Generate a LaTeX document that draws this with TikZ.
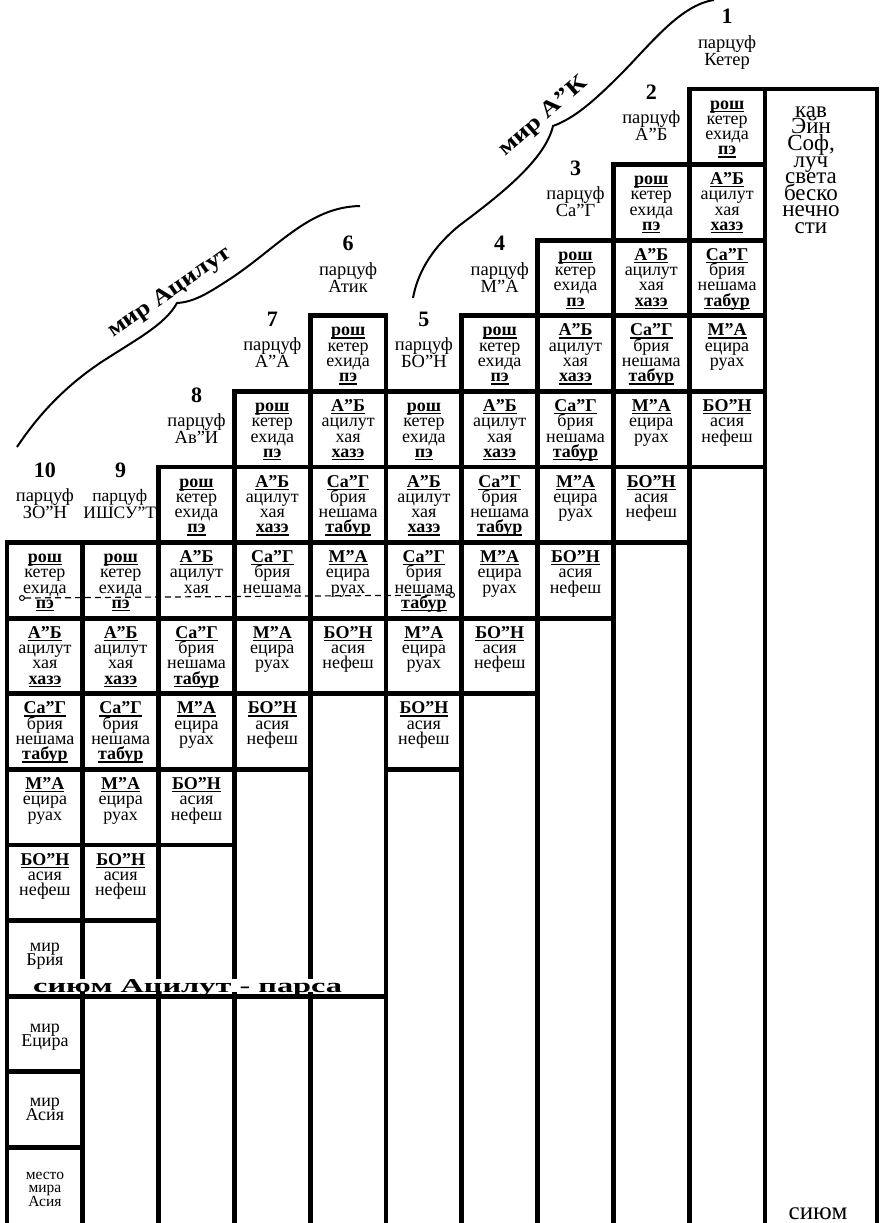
\documentclass[tikz,border=0pt]{standalone}
\usepackage{fontspec}
\setmainfont{Liberation Serif}
\usepackage{graphicx}
\usepackage{tikz}
\usetikzlibrary{positioning}
\setlength\lineskiplimit{-50pt}

\newcommand\ulb[1]{\leavevmode\setbox0\hbox{\bfseries#1}\rlap{\copy0}\rule[-2.8pt]{\wd0}{1.3pt}}
\newcommand\ctext[2][17.2pt]{\vbox to 70pt{\hsize=74pt\parindent=0pt\parskip=0pt\centering\rule{0pt}{#1}#2\par\vss}}
\newcommand\rosh{\ulb{рош}\\кетер\\ехида\\\ulb{пэ}}
\newcommand\ab{\ulb{А”Б}\\ацилут\\хая\\\ulb{хазэ}}
\newcommand\sag{\ulb{Са”Г}\\брия\\нешама\\\ulb{табур}}
\newcommand\ma{\ulb{М”А}\\ецира\\руах}
\newcommand\bon{\ulb{БО”Н}\\асия\\нефеш}

\begin{document}
\begin{tikzpicture}[x=1pt, y=-1pt, node distance=0pt,
    cellbox/.style={draw, line width=4.8pt, minimum width=75.8pt, minimum height=75.6pt, inner sep=0pt, outer sep=0pt, anchor=north west, font=\fontsize{18}{15.3}\selectfont},
    grid/.style={line width=4.8pt},
    num/.style={anchor=base, inner sep=0pt, font=\fontsize{22}{22}\selectfont\bfseries},
    plbl/.style={anchor=north, align=center, inner sep=0pt, font=\fontsize{18.5}{17}\selectfont},
    kavtxt/.style={anchor=north, align=center, inner sep=0pt, font=\fontsize{23}{16.6}\selectfont},
    world/.style={line width=2pt},
    wtext/.style={anchor=base west, inner sep=0pt, font=\bfseries},
    ring/.style={circle, draw, line width=1pt, fill=white, minimum size=5pt, inner sep=0pt},
    dashln/.style={dash pattern=on 6pt off 4pt, line width=1.2pt},
]
\useasboundingbox (0,0) rectangle (886,1223);
\coordinate (bot) at (0,1223);
\coordinate (kavtr) at (877,89);

\node[cellbox] (k1a) at (689.2,89) {\ctext{\rosh}};
\node[cellbox, below=of k1a] (k1b) {\ctext{\ab}};
\node[cellbox, below=of k1b] (k1c) {\ctext{\sag}};
\node[cellbox, below=of k1c] (k1d) {\ctext{\ma}};
\node[cellbox, below=of k1d] (k1e) {\ctext{\bon}};

\node[cellbox, left=of k1b] (k2a) {\ctext{\rosh}};
\node[cellbox, below=of k2a] (k2b) {\ctext{\ab}};
\node[cellbox, below=of k2b] (k2c) {\ctext{\sag}};
\node[cellbox, below=of k2c] (k2d) {\ctext{\ma}};
\node[cellbox, below=of k2d] (k2e) {\ctext{\bon}};

\node[cellbox, left=of k2b] (k3a) {\ctext{\rosh}};
\node[cellbox, below=of k3a] (k3b) {\ctext{\ab}};
\node[cellbox, below=of k3b] (k3c) {\ctext{\sag}};
\node[cellbox, below=of k3c] (k3d) {\ctext{\ma}};
\node[cellbox, below=of k3d] (k3e) {\ctext{\bon}};

\node[cellbox, left=of k3b] (k4a) {\ctext{\rosh}};
\node[cellbox, below=of k4a] (k4b) {\ctext{\ab}};
\node[cellbox, below=of k4b] (k4c) {\ctext{\sag}};
\node[cellbox, below=of k4c] (k4d) {\ctext{\ma}};
\node[cellbox, below=of k4d] (k4e) {\ctext{\bon}};

\node[cellbox, left=of k4b] (k5a) {\ctext{\rosh}};
\node[cellbox, below=of k5a] (k5b) {\ctext{\ab}};
\node[cellbox, below=of k5b] (k5c) {\ctext{\sag}};
\node[cellbox, below=of k5c] (k5d) {\ctext{\ma}};
\node[cellbox, below=of k5d] (k5e) {\ctext{\bon}};

\node[cellbox, left=of k5a] (k6b) {\ctext{\ab}};
\node[cellbox, above=of k6b] (k6a) {\ctext{\rosh}};
\node[cellbox, below=of k6b] (k6c) {\ctext{\sag}};
\node[cellbox, below=of k6c] (k6d) {\ctext{\ma}};
\node[cellbox, below=of k6d] (k6e) {\ctext{\bon}};

\node[cellbox, left=of k6b] (k7a) {\ctext{\rosh}};
\node[cellbox, below=of k7a] (k7b) {\ctext{\ab}};
\node[cellbox, below=of k7b] (k7c) {\ctext{\ulb{Са”Г}\\брия\\нешама}};
\node[cellbox, below=of k7c] (k7d) {\ctext{\ma}};
\node[cellbox, below=of k7d] (k7e) {\ctext{\bon}};

\node[cellbox, left=of k7b] (k8a) {\ctext{\rosh}};
\node[cellbox, below=of k8a] (k8b) {\ctext{\ulb{А”Б}\\ацилут\\хая}};
\node[cellbox, below=of k8b] (k8c) {\ctext{\sag}};
\node[cellbox, below=of k8c] (k8d) {\ctext{\ma}};
\node[cellbox, below=of k8d] (k8e) {\ctext{\bon}};

\node[cellbox, left=of k8b] (k9a) {\ctext{\rosh}};
\node[cellbox, below=of k9a] (k9b) {\ctext{\ab}};
\node[cellbox, below=of k9b] (k9c) {\ctext{\sag}};
\node[cellbox, below=of k9c] (k9d) {\ctext{\ma}};
\node[cellbox, below=of k9d] (k9e) {\ctext{\bon}};
\node[cellbox, below=of k9e] (k9f) {};

\node[cellbox, left=of k9a] (k10a) {\ctext{\rosh}};
\node[cellbox, below=of k10a] (k10b) {\ctext{\ab}};
\node[cellbox, below=of k10b] (k10c) {\ctext{\sag}};
\node[cellbox, below=of k10c] (k10d) {\ctext{\ma}};
\node[cellbox, below=of k10d] (k10e) {\ctext{\bon}};
\node[cellbox, below=of k10e] (k10f) {\ctext[28.2pt]{\fontsize{18}{14}\selectfont мир\\Брия}};
\node[cellbox, below=of k10f] (k10g) {\ctext[33.2pt]{\fontsize{18}{14}\selectfont мир\\Ецира}};
\node[cellbox, below=of k10g] (k10h) {\ctext[32.2pt]{\fontsize{18}{14}\selectfont мир\\Асия}};
\node[cellbox, draw=none, below=of k10h] (k10i) {\ctext[29.2pt]{\fontsize{15.5}{13.5}\selectfont место\\мира\\Асия}};

\draw[grid] (k1e.south west) -- (k1e.south west |- bot);
\draw[grid] (k2e.south west) -- (k2e.south west |- bot);
\draw[grid] (k3e.south west) -- (k3e.south west |- bot);
\draw[grid] (k4e.south west) -- (k4e.south west |- bot);
\draw[grid] (k5e.south west) -- (k5e.south west |- bot);
\draw[grid] (k6e.south east) -- (k6e.south east |- bot);
\draw[grid] (k6e.south west) -- (k6e.south west |- bot);
\draw[grid] (k7e.south west) -- (k7e.south west |- bot);
\draw[grid] (k8e.south west) -- (k8e.south west |- bot);
\draw[grid] (k9f.south west) -- (k9f.south west |- bot);
\draw[grid] (k10h.south west) -- (k10h.south west |- bot);
\draw[grid] (k1a.north east |- bot) -- (k1a.north east) -- (kavtr) -- (kavtr |- bot);

\node[anchor=base west, inner sep=0pt, fill=white, text depth=0pt] (parsa) at (33,992) {\resizebox{309pt}{13pt}{\bfseries сиюм Ацилут - парса}};
\draw[grid] (k10f.south west) -- (k10f.south west -| k6e.south east);

\node[kavtxt] (kav) at (811,99) {\rule{0pt}{18pt}кав\\Эйн\\Соф,\\луч\\света\\беско\\нечно\\сти};
\node[anchor=base, inner sep=0pt, font=\fontsize{25}{25}\selectfont] (siyum) at (818,1219) {сиюм};

\node[num] (n1) at ([yshift=65pt]k1a.north) {1};
\node[plbl] (p1) at ([yshift=55pt]k1a.north) {\rule{0pt}{14pt}парцуф\\Кетер};
\node[num] (n2) at ([yshift=65pt]k2a.north) {2};
\node[plbl] (p2) at ([yshift=55pt]k2a.north) {\rule{0pt}{14pt}парцуф\\А”Б};
\node[num] (n3) at ([yshift=65pt]k3a.north) {3};
\node[plbl] (p3) at ([yshift=55pt]k3a.north) {\rule{0pt}{14pt}парцуф\\Са”Г};
\node[num] (n4) at ([yshift=65pt]k4a.north) {4};
\node[plbl] (p4) at ([yshift=55pt]k4a.north) {\rule{0pt}{14pt}парцуф\\М”А};
\node[num] (n5) at ([yshift=65pt]k5a.north) {5};
\node[plbl] (p5) at ([yshift=55pt]k5a.north) {\rule{0pt}{14pt}парцуф\\БО”Н};
\node[num] (n6) at ([yshift=65pt]k6a.north) {6};
\node[plbl] (p6) at ([yshift=55pt]k6a.north) {\rule{0pt}{14pt}парцуф\\Атик};
\node[num] (n7) at ([yshift=65pt]k7a.north) {7};
\node[plbl] (p7) at ([yshift=55pt]k7a.north) {\rule{0pt}{14pt}парцуф\\А”А};
\node[num] (n8) at ([yshift=65pt]k8a.north) {8};
\node[plbl] (p8) at ([yshift=55pt]k8a.north) {\rule{0pt}{14pt}парцуф\\Ав”И};
\node[num] (n9) at ([yshift=65pt]k9a.north) {9};
\node[plbl, font=\fontsize{17.5}{17}\selectfont] (p9) at ([yshift=55pt,xshift=-1pt]k9a.north) {\rule{0pt}{14pt}парцуф\\ИШСУ”Т};
\node[num] (n10) at ([yshift=65pt]k10a.north) {10};
\node[plbl] (p10) at ([yshift=55pt]k10a.north) {\rule{0pt}{14pt}парцуф\\ЗО”Н};

\node[ring] (dl) at (22,598) {};
\node[ring] (dr) at (452,595) {};
\draw[dashln] (dl) -- (dr);

\draw[world] (17,447) .. controls (35,420) and (60,390) .. (100,363) .. controls (135,340) and (165,325) .. (177,303) .. controls (195,302) and (210,292) .. (233,277) .. controls (280,245) and (310,207) .. (360,206);
\node[wtext, rotate=34.5] (watz) at (113,338) {\resizebox{145pt}{15pt}{\bfseries мир Ацилут}};

\draw[world] (413,298) .. controls (418,270) and (435,245) .. (460,225) .. controls (500,195) and (545,160) .. (553,126) .. controls (575,118) and (595,100) .. (620,75) .. controls (650,45) and (680,5) .. (714,0);
\node[wtext, rotate=41] (wak) at (505,157) {\resizebox{110pt}{15pt}{\bfseries мир А”К}};
\end{tikzpicture}
\end{document}
